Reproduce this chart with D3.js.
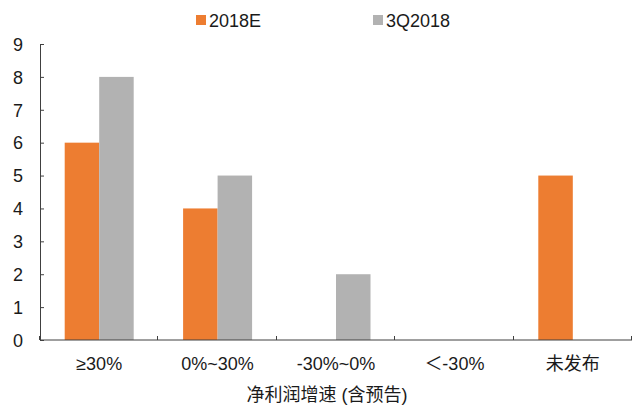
<!DOCTYPE html>
<html>
<head>
<meta charset="utf-8">
<script src="https://cdn.jsdelivr.net/npm/d3@7"></script>
<style>
  html, body { margin: 0; padding: 0; background: #fff; }
  svg text { font-family: "Liberation Sans", Arial, "Noto Sans CJK SC", sans-serif; fill: #1a1a1a; }
</style>
</head>
<body>
<svg id="chart" width="633" height="405"></svg>
<script>
// Profit-growth buckets and the count of companies in each
const categories = ["≥30%", "0%~30%", "-30%~0%", "＜-30%", "未发布"];
const seriesNames = ["2018E", "3Q2018"];
const values2018E = [6, 4, 0, 0, 5];
const values3Q2018 = [8, 5, 2, 0, 0];
const yTicks = [0, 1, 2, 3, 4, 5, 6, 7, 8, 9];
const xTitle = "净利润增速 (含预告)";

const colors = { "2018E": "#ED7D31", "3Q2018": "#B2B2B2" };
const seriesValues = { "2018E": values2018E, "3Q2018": values3Q2018 };

const svg = d3.select("#chart");
const plot = { left: 40, right: 632, top: 44, bottom: 340 };
const axisColor = "#404040";

const x0 = d3.scaleBand().domain(categories).range([plot.left, plot.right]).padding(0);
const x1 = d3.scaleBand().domain(seriesNames).range([0, x0.bandwidth()])
  .paddingInner(0).paddingOuter(0.716);
const y = d3.scaleLinear().domain([0, 9]).range([plot.bottom, plot.top]);

// Bars
const groups = svg.append("g").selectAll("g")
  .data(categories)
  .join("g")
  .attr("transform", d => `translate(${x0(d)},0)`);

groups.selectAll("rect")
  .data((c, i) => seriesNames.map(s => ({ s, v: seriesValues[s][i] })))
  .join("rect")
  .attr("x", d => x1(d.s))
  .attr("width", x1.bandwidth())
  .attr("y", d => y(d.v))
  .attr("height", d => y(0) - y(d.v))
  .attr("fill", d => colors[d.s]);

// Y axis: ticks point inward
const yAxis = svg.append("g")
  .attr("transform", `translate(${plot.left},0)`)
  .call(d3.axisRight(y).tickValues(yTicks).tickSize(4).tickSizeOuter(0).tickFormat(d3.format("d")));
yAxis.select(".domain").attr("stroke", axisColor);
yAxis.selectAll(".tick line").attr("stroke", axisColor);
yAxis.selectAll(".tick text")
  .attr("x", -17)
  .attr("text-anchor", "end")
  .attr("dy", "0.35em")
  .style("font-size", "18px");

// X axis: line plus inward ticks on category boundaries
const xAxis = svg.append("g")
  .attr("transform", `translate(0,${plot.bottom})`);
xAxis.append("line")
  .attr("x1", plot.left).attr("x2", plot.right)
  .attr("stroke", axisColor);
const boundaries = categories.map(c => x0(c) + x0.bandwidth()).concat([x0(categories[0])]);
xAxis.selectAll(".bt")
  .data(boundaries)
  .join("line")
  .attr("class", "bt")
  .attr("x1", d => Math.round(d) - 0.5).attr("x2", d => Math.round(d) - 0.5)
  .attr("y1", 0).attr("y2", -4)
  .attr("stroke", axisColor);
xAxis.selectAll(".cat")
  .data(categories)
  .join("text")
  .attr("class", "cat")
  .attr("x", d => x0(d) + x0.bandwidth() / 2)
  .attr("y", 30)
  .attr("text-anchor", "middle")
  .style("font-size", "18px")
  .text(d => d);

// Axis title
svg.append("text")
  .attr("x", 327)
  .attr("y", 401)
  .attr("text-anchor", "middle")
  .style("font-size", "18px")
  .text(xTitle);

// Legend
const legendPos = { "2018E": 196, "3Q2018": 373 };
const legend = svg.append("g").selectAll("g")
  .data(seriesNames)
  .join("g")
  .attr("transform", d => `translate(${legendPos[d]},15)`);
legend.append("rect")
  .attr("width", 10).attr("height", 10)
  .attr("fill", d => colors[d]);
legend.append("text")
  .attr("x", 13)
  .attr("y", 12)
  .style("font-size", "18px")
  .text(d => d);
</script>
</body>
</html>
